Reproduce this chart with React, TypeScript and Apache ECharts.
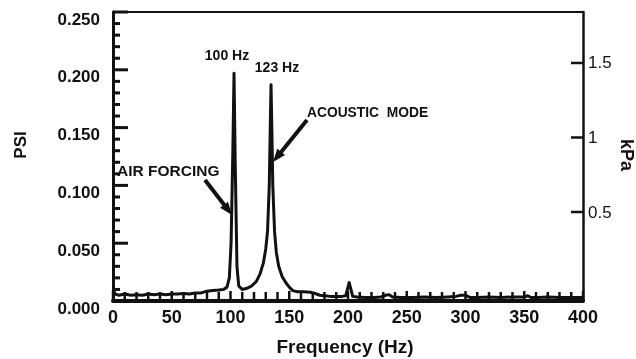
import React, { useEffect, useRef } from "react";
import * as echarts from "echarts";

// Frequency (Hz) and amplitude (PSI)
const freqHz = [
  0, 2, 5, 10, 15, 20, 25, 30, 35, 40, 45, 50, 55, 60, 65, 70, 75, 80, 85, 90,
  94, 97, 99, 100.5, 102, 103, 104, 105.5, 107, 110, 114, 118, 122, 125, 128, 130,
  131.5, 133, 134, 134.5, 135, 136, 137.5, 139, 141, 144, 147, 150, 153, 157, 162,
  168, 172, 176, 180, 185, 190, 195, 198, 200, 201, 202, 204, 208, 215, 222, 228,
  232, 235, 238, 245, 255, 265, 275, 285, 292, 296, 300, 304, 310, 320, 330, 340,
  350, 353, 356, 362, 370, 380, 390, 400,
];
const psiValues = [
  0.010, 0.006, 0.005, 0.006, 0.005, 0.0055, 0.005, 0.006, 0.0055, 0.006, 0.0055,
  0.006, 0.006, 0.0065, 0.006, 0.007, 0.007, 0.0085, 0.009, 0.0095,
  0.010, 0.012, 0.02, 0.05, 0.13, 0.197, 0.12, 0.03, 0.013, 0.010, 0.011, 0.013,
  0.017, 0.023, 0.033, 0.045,
  0.06, 0.10, 0.16, 0.187, 0.16, 0.10, 0.06, 0.042, 0.03, 0.021, 0.016, 0.012,
  0.009, 0.008, 0.008,
  0.0075, 0.0065, 0.005, 0.0045, 0.004, 0.004, 0.004, 0.0045, 0.012, 0.016, 0.012,
  0.004, 0.0035, 0.003, 0.003, 0.0035,
  0.005, 0.0055, 0.0035, 0.003, 0.003, 0.0035, 0.003, 0.0035, 0.004, 0.005, 0.005,
  0.003, 0.003, 0.0035, 0.003, 0.0035,
  0.0035, 0.0045, 0.003, 0.003, 0.0035, 0.003, 0.003, 0.003,
];

const psiAxis = { min: 0, max: 0.25, step: 0.05, minorStep: 0.01 };
const freqAxis = { min: 0, max: 400, step: 50, minorStep: 10 };
const kpaTicks = [0.5, 1, 1.5];
const kpaRange = { min: -0.097, max: 1.842 };

const peakLabels = ["100 Hz", "123 Hz"];
const noteLabels = ["AIR FORCING", "ACOUSTIC  MODE"];

const FONT = "Liberation Sans, Arial, Helvetica, sans-serif";
const INK = "#111";

function stepsBetween(min: number, max: number, step: number) {
  const out: number[] = [];
  const n = Math.round((max - min) / step);
  for (let i = 0; i <= n; i++) out.push(+(min + i * step).toFixed(6));
  return out;
}

function isMajor(v: number, step: number) {
  const r = v / step;
  return Math.abs(r - Math.round(r)) < 1e-6;
}

function arrow(x1: number, y1: number, x2: number, y2: number) {
  const dx = x2 - x1;
  const dy = y2 - y1;
  const len = Math.sqrt(dx * dx + dy * dy);
  const ux = dx / len;
  const uy = dy / len;
  const nx = -uy;
  const ny = ux;
  const head = 13;
  const half = 5;
  const bx = x2 - head * ux;
  const by = y2 - head * uy;
  return [
    {
      type: "line",
      shape: { x1, y1, x2: bx + ux * 2, y2: by + uy * 2 },
      style: { stroke: INK, lineWidth: 4 },
    },
    {
      type: "polygon",
      shape: {
        points: [
          [x2, y2],
          [bx + half * nx, by + half * ny],
          [bx - half * nx, by - half * ny],
        ],
      },
      style: { fill: INK },
    },
  ];
}

export default function App() {
  const ref = useRef<HTMLDivElement>(null);
  useEffect(() => {
    if (!ref.current) return;
    const chart = echarts.init(ref.current, null, { renderer: "svg" });
    const data = freqHz.map((f, i) => [f, psiValues[i]]);

    const xTickData = stepsBetween(freqAxis.min, freqAxis.max, freqAxis.minorStep).map((f) => [f, psiAxis.min]);
    const yTickData = stepsBetween(psiAxis.min, psiAxis.max, psiAxis.minorStep).map((v) => [freqAxis.min, v]);
    const kTickData = kpaTicks.map((v) => [freqAxis.max, v]);

    const tickLine = (x1: number, y1: number, x2: number, y2: number, w: number) => ({
      type: "line",
      shape: { x1, y1, x2, y2 },
      style: { stroke: INK, lineWidth: w },
    });

    chart.setOption({
      animation: false,
      textStyle: { fontFamily: FONT, color: INK },
      grid: { left: 113, right: 53, top: 12, bottom: 58 },
      xAxis: [
        {
          type: "value",
          position: "bottom",
          min: freqAxis.min,
          max: freqAxis.max,
          interval: freqAxis.step,
          axisLine: { show: true, onZero: false, lineStyle: { color: INK, width: 4 } },
          axisTick: { show: false },
          splitLine: { show: false },
          axisLabel: {
            margin: 7,
            fontSize: 18,
            fontWeight: "bold",
            fontFamily: FONT,
            color: INK,
          },
        },
        {
          type: "value",
          position: "top",
          min: freqAxis.min,
          max: freqAxis.max,
          interval: freqAxis.step,
          axisLine: { show: true, onZero: false, lineStyle: { color: INK, width: 2 } },
          axisTick: { show: false },
          axisLabel: { show: false },
          splitLine: { show: false },
        },
      ],
      yAxis: [
        {
          type: "value",
          min: psiAxis.min,
          max: psiAxis.max,
          interval: psiAxis.step,
          position: "left",
          axisLine: { show: true, onZero: false, lineStyle: { color: INK, width: 3 } },
          axisTick: { show: false },
          splitLine: { show: false },
          axisLabel: {
            margin: 13,
            fontSize: 17,
            fontWeight: "bold",
            fontFamily: FONT,
            color: INK,
            verticalAlign: "top",
            lineHeight: 14,
            formatter: (v: number) => v.toFixed(3),
          },
        },
        {
          type: "value",
          min: kpaRange.min,
          max: kpaRange.max,
          position: "right",
          axisLine: { show: true, onZero: false, lineStyle: { color: INK, width: 2.5 } },
          axisTick: { show: false },
          splitLine: { show: false },
          axisLabel: {
            margin: 5,
            fontSize: 17,
            fontFamily: FONT,
            color: INK,
            customValues: kpaTicks,
            formatter: (v: number) => String(v),
          },
        },
      ],
      series: [
        {
          type: "line",
          data,
          xAxisIndex: 0,
          yAxisIndex: 0,
          showSymbol: false,
          symbol: "none",
          lineStyle: { color: INK, width: 3, join: "round" },
          z: 3,
        },
        {
          type: "custom",
          name: "xticks",
          xAxisIndex: 0,
          yAxisIndex: 0,
          silent: true,
          data: xTickData,
          encode: { x: 0, y: 1 },
          renderItem: (_p: any, api: any) => {
            const v = api.value(0);
            const pt = api.coord([v, api.value(1)]);
            const len = isMajor(v, freqAxis.step) ? 10 : 9;
            return tickLine(pt[0], pt[1], pt[0], pt[1] - len, 2.5);
          },
        },
        {
          type: "custom",
          name: "yticks",
          xAxisIndex: 0,
          yAxisIndex: 0,
          silent: true,
          data: yTickData,
          encode: { x: 0, y: 1 },
          renderItem: (_p: any, api: any) => {
            const v = api.value(1);
            const pt = api.coord([api.value(0), v]);
            const len = isMajor(v, psiAxis.step) ? 15 : 7;
            return tickLine(pt[0], pt[1], pt[0] + len, pt[1], 3);
          },
        },
        {
          type: "custom",
          name: "kticks",
          xAxisIndex: 0,
          yAxisIndex: 1,
          silent: true,
          data: kTickData,
          encode: { x: 0, y: 1 },
          renderItem: (_p: any, api: any) => {
            const pt = api.coord([api.value(0), api.value(1)]);
            return tickLine(pt[0], pt[1], pt[0] - 12, pt[1], 2.5);
          },
        },
      ],
      graphic: [
        {
          type: "text",
          x: 20,
          y: 145,
          rotation: Math.PI / 2,
          style: {
            text: "PSI",
            font: `bold 17px ${FONT}`,
            fill: INK,
            align: "center",
            verticalAlign: "middle",
          },
        },
        {
          type: "text",
          x: 627,
          y: 155,
          rotation: -Math.PI / 2,
          style: {
            text: "kPa",
            font: `bold 18px ${FONT}`,
            fill: INK,
            align: "center",
            verticalAlign: "middle",
          },
        },
        {
          type: "text",
          x: 345,
          y: 346,
          style: {
            text: "Frequency (Hz)",
            font: `bold 19px ${FONT}`,
            fill: INK,
            align: "center",
            verticalAlign: "middle",
          },
        },
        {
          type: "text",
          x: 227,
          y: 55,
          style: {
            text: peakLabels[0],
            font: `bold 14px ${FONT}`,
            fill: INK,
            align: "center",
            verticalAlign: "middle",
          },
        },
        {
          type: "text",
          x: 277,
          y: 67,
          style: {
            text: peakLabels[1],
            font: `bold 14px ${FONT}`,
            fill: INK,
            align: "center",
            verticalAlign: "middle",
          },
        },
        {
          type: "text",
          x: 117,
          y: 170,
          style: {
            text: noteLabels[0],
            font: `bold 15.5px ${FONT}`,
            fill: INK,
            align: "left",
            verticalAlign: "middle",
          },
        },
        {
          type: "text",
          x: 307,
          y: 112,
          style: {
            text: noteLabels[1],
            font: `bold 13.8px ${FONT}`,
            fill: INK,
            align: "left",
            verticalAlign: "middle",
          },
        },
        ...arrow(205, 180, 232, 215),
        ...arrow(307, 120, 273, 162),
      ],
    });
    return () => chart.dispose();
  }, []);
  return <div ref={ref} style={{ position: "fixed", left: 0, top: 0, width: 636, height: 359 }} />;
}
